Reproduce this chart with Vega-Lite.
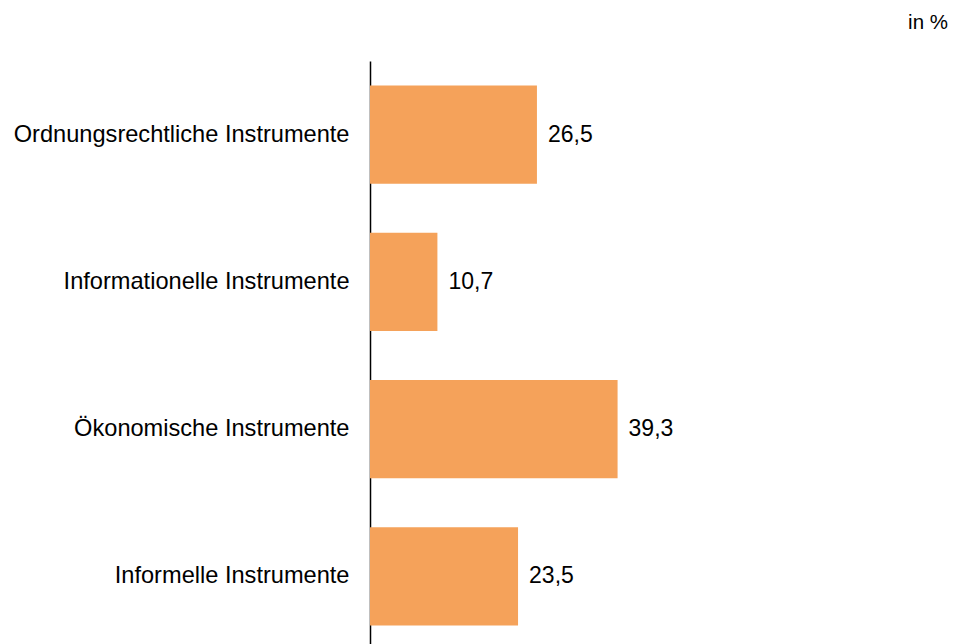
{
  "$schema": "https://vega.github.io/schema/vega-lite/v6.json",
  "autosize": "none",
  "width": 578,
  "height": 589,
  "padding": {"left": 370, "top": 61, "right": 6, "bottom": 0},
  "background": "white",
  "config": {
    "view": {"stroke": null},
    "font": "Liberation Sans",
    "locale": {"number": {"decimal": ",", "thousands": ".", "grouping": [3], "currency": ["", " €"]}}
  },
  "title": {"text": "in %", "anchor": "end", "orient": "top", "fontSize": 20.5, "fontWeight": "normal", "color": "black", "offset": 28, "font": "Liberation Sans"},
  "data": {"values": [
    {"kategorie": "Ordnungsrechtliche Instrumente", "wert": 26.5},
    {"kategorie": "Informationelle Instrumente", "wert": 10.7},
    {"kategorie": "Ökonomische Instrumente", "wert": 39.3},
    {"kategorie": "Informelle Instrumente", "wert": 23.5}
  ]},
  "encoding": {
    "y": {"field": "kategorie", "type": "nominal", "sort": null,
      "scale": {"paddingInner": 0.334, "paddingOuter": 0.167},
      "axis": {"title": null, "ticks": false, "domainColor": "black", "domainWidth": 1.5, "labelFontSize": 23.6, "labelColor": "black", "labelPadding": 21, "labelLimit": 400}},
    "x": {"field": "wert", "type": "quantitative", "scale": {"domain": [0, 91.75], "nice": false}, "axis": null}
  },
  "layer": [
    {"mark": {"type": "bar", "color": "#F5A25A"}},
    {"mark": {"type": "text", "align": "left", "dx": 11, "fontSize": 23, "color": "black"},
     "encoding": {"text": {"field": "wert", "type": "quantitative", "format": ".1f"}}}
  ]
}
